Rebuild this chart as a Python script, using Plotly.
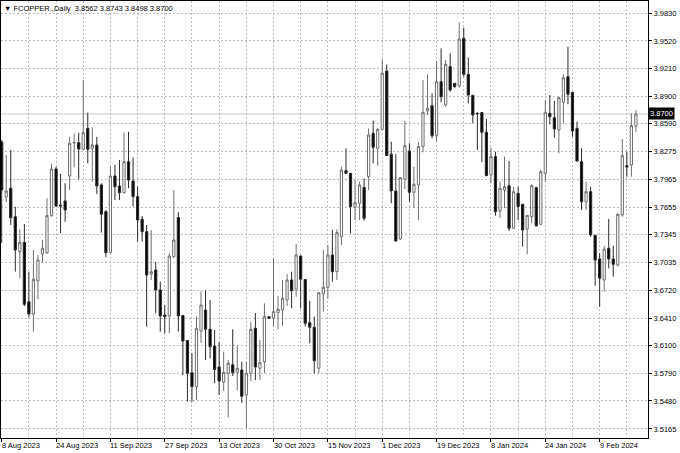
import plotly.graph_objects as go

# ---- data ----
open_ = [3.8386, 3.7768, 3.7866, 3.7547, 3.7155, 3.7260, 3.6593, 3.6455, 3.6829, 3.7129,
         3.7143, 3.7559, 3.8083, 3.7679, 3.7724, 3.8004, 3.8374, 3.8378, 3.8304, 3.8539,
         3.8315, 3.8352, 3.7903, 3.7603, 3.7143, 3.8004, 3.7892, 3.7817, 3.8165, 3.7948,
         3.7772, 3.7518, 3.7379, 3.6904, 3.6949, 3.6725, 3.6444, 3.6433, 3.7098, 3.7538,
         3.6438, 3.6158, 3.5797, 3.5639, 3.6264, 3.6500, 3.6284, 3.6096, 3.5861, 3.5689,
         3.5790, 3.5886, 3.5802, 3.5827, 3.5546, 3.5788, 3.6295, 3.5846, 3.5920, 3.6425,
         3.6407, 3.6470, 3.6500, 3.6612, 3.6837, 3.6733, 3.7106, 3.6843, 3.6358, 3.6306,
         3.5846, 3.6680, 3.6755, 3.7117, 3.6930, 3.7323, 3.8064, 3.8034, 3.7653, 3.7698,
         3.7877, 3.7996, 3.8483, 3.8315, 3.8528, 3.9182, 3.8248, 3.7836, 3.7297, 3.7970,
         3.8285, 3.7821, 3.7903, 3.8333, 3.8734, 3.8793, 3.8456, 3.9062, 3.8801, 3.9231,
         3.9044, 3.9018, 3.9550, 3.9145, 3.8910, 3.8708, 3.8716, 3.8495, 3.8015, 3.8221,
         3.7611, 3.7847, 3.7895, 3.7417, 3.7810, 3.7686, 3.7409, 3.7547, 3.7873, 3.7462,
         3.8034, 3.8708, 3.8658, 3.8520, 3.8831, 3.9119, 3.8943, 3.8539, 3.8165, 3.7716,
         3.7828, 3.7339, 3.7073, 3.6837, 3.7193, 3.7073, 3.7005, 3.7566, 3.8120, 3.8128,
         3.8562]

high = [3.8408, 3.8240, 3.8296, 3.7660, 3.7406, 3.7465, 3.6930, 3.7174, 3.7117, 3.7286,
        3.7754, 3.8139, 3.8108, 3.8027, 3.7922, 3.8445, 3.8483, 3.8490, 3.9081, 3.8714,
        3.8551, 3.8445, 3.7922, 3.7623, 3.8108, 3.8128, 3.8184, 3.8490, 3.8501, 3.8214,
        3.7884, 3.7555, 3.7454, 3.7398, 3.7042, 3.6818, 3.6556, 3.7137, 3.7847, 3.7597,
        3.6444, 3.6164, 3.6014, 3.6427, 3.6708, 3.6719, 3.6612, 3.6276, 3.6141, 3.6032,
        3.5939, 3.6284, 3.6102, 3.5920, 3.5920, 3.6366, 3.6467, 3.6164, 3.6575, 3.6433,
        3.7080, 3.6657, 3.6837, 3.6904, 3.6930, 3.7241, 3.7112, 3.6848, 3.6605, 3.6425,
        3.6702, 3.7174, 3.7230, 3.7398, 3.7406, 3.8108, 3.8315, 3.8038, 3.7959, 3.7940,
        3.7978, 3.8539, 3.8625, 3.8539, 3.9314, 3.9255, 3.8389, 3.8248, 3.7993, 3.8621,
        3.8371, 3.8108, 3.8382, 3.9081, 3.9145, 3.8932, 3.9295, 3.9437, 3.9306, 3.9381,
        3.9048, 3.9729, 3.9668, 3.9332, 3.8913, 3.8719, 3.8719, 3.8644, 3.8322, 3.8277,
        3.7940, 3.8221, 3.8172, 3.7884, 3.7884, 3.7690, 3.7566, 3.7911, 3.7884, 3.8071,
        3.8857, 3.8913, 3.8846, 3.8894, 3.9145, 3.9455, 3.8947, 3.8614, 3.8315, 3.7940,
        3.7884, 3.7342, 3.7137, 3.7222, 3.7522, 3.7222, 3.7585, 3.8419, 3.8277, 3.8708,
        3.8743]

low = [3.7252, 3.7712, 3.7454, 3.6930, 3.6856, 3.6545, 3.6418, 3.6257, 3.6620, 3.7031,
       3.7129, 3.7547, 3.7653, 3.7364, 3.7491, 3.7847, 3.8102, 3.7967, 3.8296, 3.8147,
       3.7940, 3.7802, 3.7368, 3.7092, 3.7137, 3.7735, 3.7735, 3.7810, 3.7866, 3.7660,
       3.7267, 3.7267, 3.6313, 3.6837, 3.6463, 3.6257, 3.6239, 3.6239, 3.7080, 3.6257,
       3.5771, 3.5471, 3.5471, 3.5490, 3.6130, 3.5939, 3.5958, 3.5678, 3.5546, 3.5591,
       3.5294, 3.5760, 3.5602, 3.5456, 3.5173, 3.5703, 3.5715, 3.5715, 3.5790, 3.6399,
       3.6313, 3.6284, 3.6321, 3.6545, 3.6519, 3.6649, 3.6519, 3.6313, 3.6126, 3.5790,
       3.5790, 3.6481, 3.6632, 3.6818, 3.6837, 3.7230, 3.8027, 3.7361, 3.7510, 3.7510,
       3.7502, 3.7847, 3.8147, 3.8116, 3.8520, 3.8229, 3.7698, 3.7267, 3.7286, 3.7858,
       3.7716, 3.7648, 3.7510, 3.8270, 3.8689, 3.8427, 3.8389, 3.8831, 3.8782, 3.8950,
       3.8995, 3.8995, 3.9119, 3.8820, 3.8596, 3.8296, 3.8158, 3.8004, 3.7922, 3.7559,
       3.7529, 3.7642, 3.7387, 3.7409, 3.7510, 3.7211, 3.7125, 3.7473, 3.7435, 3.7454,
       3.7940, 3.8584, 3.8434, 3.8259, 3.8596, 3.8809, 3.8445, 3.8165, 3.7623, 3.7623,
       3.7323, 3.6773, 3.6537, 3.6706, 3.6968, 3.6874, 3.6986, 3.7547, 3.7996, 3.7996,
       3.8498]

close = [3.7847, 3.7836, 3.7536, 3.7174, 3.7260, 3.6564, 3.6455, 3.6845, 3.7061, 3.7193,
         3.7559, 3.8083, 3.7667, 3.7667, 3.7623, 3.8371, 3.8380, 3.8307, 3.8490, 3.8304,
         3.8352, 3.7892, 3.7574, 3.7143, 3.8004, 3.7884, 3.7817, 3.8165, 3.7959, 3.7772,
         3.7510, 3.7379, 3.6893, 3.6930, 3.6725, 3.6433, 3.6425, 3.7106, 3.7286, 3.6433,
         3.6152, 3.5790, 3.5639, 3.6295, 3.6556, 3.6284, 3.6088, 3.5832, 3.5703, 3.5799,
         3.5902, 3.5797, 3.5846, 3.5532, 3.5790, 3.6284, 3.5861, 3.5909, 3.6425, 3.6407,
         3.6481, 3.6508, 3.6632, 3.6837, 3.6717, 3.7117, 3.6845, 3.6351, 3.6306, 3.5931,
         3.6694, 3.6755, 3.7117, 3.6930, 3.7368, 3.8071, 3.8034, 3.7660, 3.7704, 3.7903,
         3.7529, 3.8464, 3.8326, 3.8528, 3.9157, 3.8234, 3.7836, 3.7275, 3.7985, 3.8344,
         3.7821, 3.7911, 3.8333, 3.8719, 3.8764, 3.8456, 3.9062, 3.8894, 3.9258, 3.8969,
         3.9006, 3.9542, 3.9145, 3.8913, 3.8689, 3.8702, 3.8495, 3.8007, 3.8221, 3.7603,
         3.7866, 3.7884, 3.7417, 3.7828, 3.7660, 3.7398, 3.7563, 3.7895, 3.7446, 3.8052,
         3.8719, 3.8670, 3.8532, 3.8883, 3.9107, 3.8921, 3.8509, 3.8172, 3.7716, 3.7828,
         3.7342, 3.7061, 3.6856, 3.7185, 3.7073, 3.7013, 3.7574, 3.8232, 3.8105, 3.8569,
         3.8700]

bar_index = list(range(len(close)))

date_tick_index = [0, 12, 24, 36, 48, 60, 72, 84, 96, 108, 120, 132]
date_tick_labels = ["8 Aug 2023", "24 Aug 2023", "11 Sep 2023", "27 Sep 2023",
                    "13 Oct 2023", "30 Oct 2023", "15 Nov 2023", "1 Dec 2023",
                    "19 Dec 2023", "8 Jan 2024", "24 Jan 2024", "9 Feb 2024"]
grid_step_bars = 6

price_ticks = [3.9830, 3.9520, 3.9210, 3.8900, 3.8590, 3.8275, 3.7965, 3.7655,
               3.7345, 3.7035, 3.6720, 3.6410, 3.6100, 3.5790, 3.5480, 3.5165]
price_tick_text = [f"{v:.4f}" for v in price_ticks]

symbol_title = "FCOPPER.,Daily"
last_ohlc = [3.8562, 3.8743, 3.8498, 3.8700]
current_price = last_ohlc[3]

# ---- figure ----
FONT = "Liberation Sans, Arial, sans-serif"
GRID = "#bdbdbd"

fig = go.Figure()
fig.add_trace(go.Candlestick(
    x=bar_index, open=open_, high=high, low=low, close=close,
    increasing=dict(line=dict(color="#6e6e6e", width=1), fillcolor="#ffffff"),
    decreasing=dict(line=dict(color="#2a2a2a", width=1), fillcolor="#000000"),
    whiskerwidth=0, hoverinfo="skip", showlegend=False,
))

fig.add_shape(type="line", xref="paper", x0=0, x1=1, yref="y",
              y0=current_price, y1=current_price,
              line=dict(color="#c8c8c8", width=1), layer="below")

for idx, lab in zip(date_tick_index, date_tick_labels):
    fig.add_annotation(x=idx, xref="x", y=0, yref="paper", yanchor="top",
                       xanchor="left", yshift=-1, xshift=-2, text=lab, showarrow=False,
                       font=dict(family=FONT, size=7.5, color="#000000"))

title_text = "\u25BC " + symbol_title + "\u00a0 " + " ".join(f"{v:.4f}" for v in last_ohlc)
fig.add_annotation(x=0, xref="paper", y=1, yref="paper", xanchor="left", yanchor="top",
                   xshift=1, yshift=-1, text=title_text, showarrow=False,
                   font=dict(family=FONT, size=7.5, color="#000000"))

fig.add_annotation(x=1, xref="paper", y=current_price, yref="y", xanchor="left",
                   yanchor="middle", text=f"{current_price:.4f}", showarrow=False,
                   bgcolor="#000000", borderpad=1, xshift=0,
                   font=dict(family=FONT, size=7.5, color="#ffffff"))

fig.update_layout(
    width=680, height=453,
    margin=dict(l=1, r=32, t=1, b=15),
    paper_bgcolor="#ffffff", plot_bgcolor="#ffffff",
    font=dict(family=FONT, size=7.5, color="#000000"),
    xaxis=dict(
        range=[-0.155, 142.67], rangeslider=dict(visible=False),
        tickmode="array", tickvals=date_tick_index, showticklabels=False,
        ticks="outside", ticklen=3, tickcolor="#000000",
        showgrid=True, gridcolor=GRID, gridwidth=1, griddash="2px,2px",
        minor=dict(tick0=0, dtick=grid_step_bars, showgrid=True, gridcolor=GRID,
                   griddash="2px,2px", ticks=""),
        showline=True, linecolor="#000000", linewidth=1, mirror=True, zeroline=False,
    ),
    yaxis=dict(
        side="right", range=[3.50636, 3.99680], automargin=False,
        tickmode="array", tickvals=price_ticks, ticktext=price_tick_text,
        ticks="outside", ticklen=3, tickcolor="#000000",
        showgrid=True, gridcolor=GRID, gridwidth=1, griddash="2px,2px",
        showline=True, linecolor="#000000", linewidth=1, mirror=True, zeroline=False,
        tickfont=dict(family=FONT, size=7.5, color="#000000"),
    ),
)

fig.write_html("out.html", config={"displayModeBar": False, "staticPlot": True},
               post_script="document.body.style.margin='0';document.body.style.overflow='hidden';")
